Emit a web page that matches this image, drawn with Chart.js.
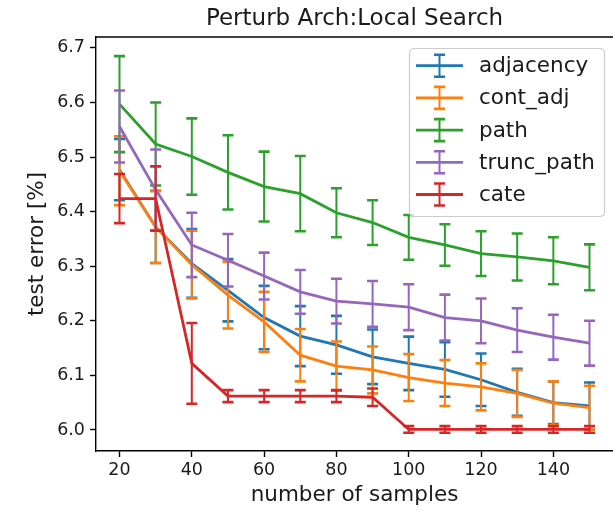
<!DOCTYPE html>
<html>
<head>
<meta charset="utf-8">
<title>Perturb Arch:Local Search</title>
<script src="https://cdn.jsdelivr.net/npm/chart.js@4.4.1/dist/chart.umd.min.js"></script>
<style>
  html, body { margin: 0; padding: 0; background: #ffffff; }
  #wrap { width: 613px; height: 514px; }
</style>
</head>
<body>
<div id="wrap"><canvas id="chart" width="613" height="514"></canvas></div>
<script>
// Number of samples on the x axis
const samples = [20, 30, 40, 50, 60, 70, 80, 90, 100, 110, 120, 130, 140, 150];

// Mean test error [%] per encoding
const adjacency = [6.477, 6.372, 6.305, 6.256, 6.206, 6.172, 6.156, 6.134, 6.122, 6.111, 6.092, 6.069, 6.050, 6.044];
const contAdj   = [6.475, 6.372, 6.303, 6.247, 6.198, 6.137, 6.117, 6.110, 6.096, 6.086, 6.079, 6.067, 6.049, 6.041];
const path      = [6.597, 6.524, 6.501, 6.472, 6.446, 6.433, 6.398, 6.380, 6.353, 6.339, 6.323, 6.317, 6.310, 6.298];
const truncPath = [6.556, 6.440, 6.339, 6.311, 6.282, 6.253, 6.236, 6.231, 6.225, 6.206, 6.200, 6.183, 6.170, 6.159];
const cate      = [6.424, 6.424, 6.122, 6.062, 6.062, 6.062, 6.062, 6.060, 6.001, 6.001, 6.001, 6.001, 6.001, 6.001];

// Half-width of the error bars
const adjacencyErr = [0.056, 0.066, 0.063, 0.057, 0.058, 0.055, 0.053, 0.050, 0.049, 0.050, 0.048, 0.043, 0.039, 0.043];
const contAdjErr   = [0.063, 0.066, 0.062, 0.061, 0.055, 0.048, 0.045, 0.043, 0.043, 0.042, 0.043, 0.043, 0.040, 0.040];
const pathErr      = [0.088, 0.076, 0.070, 0.068, 0.064, 0.069, 0.045, 0.041, 0.041, 0.038, 0.041, 0.043, 0.043, 0.042];
const truncPathErr = [0.066, 0.074, 0.059, 0.048, 0.043, 0.040, 0.041, 0.042, 0.042, 0.042, 0.041, 0.040, 0.041, 0.041];
const cateErr      = [0.045, 0.059, 0.074, 0.011, 0.011, 0.011, 0.011, 0.016, 0.006, 0.006, 0.006, 0.006, 0.006, 0.006];

// Axis ticks
const xTicks = [20, 40, 60, 80, 100, 120, 140];
const yTicks = [6.0, 6.1, 6.2, 6.3, 6.4, 6.5, 6.6, 6.7];

const seriesNames  = ['adjacency', 'cont_adj', 'path', 'trunc_path', 'cate'];
const seriesValues = [adjacency, contAdj, path, truncPath, cate];
const seriesErrors = [adjacencyErr, contAdjErr, pathErr, truncPathErr, cateErr];
const seriesColors = ['#1f77b4', '#ff7f0e', '#2ca02c', '#9467bd', '#d62728'];

const FONT = "'DejaVu Sans', 'Liberation Sans', sans-serif";
const TEXT = '#1a1a1a';

const datasets = seriesNames.map((name, k) => ({
  label: name,
  data: samples.map((x, i) => ({ x: x, y: seriesValues[k][i] })),
  err: seriesErrors[k],
  borderColor: seriesColors[k],
  backgroundColor: seriesColors[k],
  borderWidth: 2.8,
  pointRadius: 0,
  pointHoverRadius: 0,
  tension: 0,
  fill: false,
  order: seriesNames.length - k   // later series are painted on top
}));

// Vertical error bars with caps, painted just under each series' line
const errorBars = {
  id: 'errorBars',
  beforeDatasetDraw(chart, args) {
    const ds = chart.data.datasets[args.index];
    const xs = chart.scales.x, ys = chart.scales.y;
    const ctx = chart.ctx;
    const cap = 5.5;
    ctx.save();
    ctx.strokeStyle = ds.borderColor;
    ds.data.forEach((pt, i) => {
      const px = xs.getPixelForValue(pt.x);
      const top = ys.getPixelForValue(pt.y + ds.err[i]);
      const bot = ys.getPixelForValue(pt.y - ds.err[i]);
      ctx.lineWidth = 2;
      ctx.beginPath();
      ctx.moveTo(px, top);
      ctx.lineTo(px, bot);
      ctx.stroke();
      ctx.lineWidth = 2.6;
      ctx.beginPath();
      ctx.moveTo(px - cap, top); ctx.lineTo(px + cap, top);
      ctx.moveTo(px - cap, bot); ctx.lineTo(px + cap, bot);
      ctx.stroke();
    });
    ctx.restore();
  }
};

// Title, top spine and the boxed legend
const decorations = {
  id: 'decorations',
  afterDraw(chart) {
    const ctx = chart.ctx;
    const area = chart.chartArea;
    ctx.save();

    // top spine
    ctx.strokeStyle = '#000';
    ctx.lineWidth = 1.4;
    ctx.beginPath();
    ctx.moveTo(area.left, area.top);
    ctx.lineTo(area.right, area.top);
    ctx.stroke();

    // title
    ctx.fillStyle = TEXT;
    ctx.font = '23px ' + FONT;
    ctx.textAlign = 'center';
    ctx.textBaseline = 'middle';
    ctx.fillText('Perturb Arch:Local Search', (area.left + area.right) / 2, 19);

    // legend frame
    const bx = 409.5, by = 48.5, bw = 195, bh = 168, r = 5;
    ctx.beginPath();
    ctx.moveTo(bx + r, by);
    ctx.lineTo(bx + bw - r, by);
    ctx.quadraticCurveTo(bx + bw, by, bx + bw, by + r);
    ctx.lineTo(bx + bw, by + bh - r);
    ctx.quadraticCurveTo(bx + bw, by + bh, bx + bw - r, by + bh);
    ctx.lineTo(bx + r, by + bh);
    ctx.quadraticCurveTo(bx, by + bh, bx, by + bh - r);
    ctx.lineTo(bx, by + r);
    ctx.quadraticCurveTo(bx, by, bx + r, by);
    ctx.closePath();
    ctx.fillStyle = 'rgba(255,255,255,0.8)';
    ctx.fill();
    ctx.strokeStyle = '#cccccc';
    ctx.lineWidth = 1.2;
    ctx.stroke();

    // legend entries
    ctx.font = '21.5px ' + FONT;
    ctx.textAlign = 'left';
    ctx.textBaseline = 'middle';
    seriesNames.forEach((name, k) => {
      const y = 65.7 + k * 32.2;
      const cx = 439.5;
      ctx.strokeStyle = seriesColors[k];
      ctx.lineWidth = 2.8;
      ctx.beginPath();
      ctx.moveTo(416, y); ctx.lineTo(463, y);
      ctx.stroke();
      ctx.lineWidth = 2;
      ctx.beginPath();
      ctx.moveTo(cx, y - 11); ctx.lineTo(cx, y + 11);
      ctx.stroke();
      ctx.lineWidth = 2.6;
      ctx.beginPath();
      ctx.moveTo(cx - 5.5, y - 11); ctx.lineTo(cx + 5.5, y - 11);
      ctx.moveTo(cx - 5.5, y + 11); ctx.lineTo(cx + 5.5, y + 11);
      ctx.stroke();
      ctx.fillStyle = TEXT;
      ctx.fillText(name, 479, y + 1);
    });
    ctx.restore();
  }
};

new Chart(document.getElementById('chart'), {
  type: 'line',
  data: { datasets: datasets },
  plugins: [errorBars, decorations],
  options: {
    responsive: false,
    animation: false,
    devicePixelRatio: 1,
    layout: { padding: { top: 37, right: 0, bottom: 0, left: 0 } },
    plugins: {
      legend: { display: false },
      title: { display: false },
      tooltip: { enabled: false }
    },
    events: [],
    scales: {
      x: {
        type: 'linear',
        position: 'bottom',
        min: 13.5,
        max: 156.5,
        bounds: 'data',
        afterBuildTicks: (axis) => { axis.ticks = xTicks.map(v => ({ value: v })); },
        afterFit: (axis) => { axis.height = 63; },
        ticks: {
          autoSkip: false,
          maxRotation: 0,
          padding: 3,
          color: TEXT,
          font: { family: FONT, size: 17.5 },
          callback: (v) => String(v)
        },
        grid: {
          display: true,
          drawOnChartArea: false,
          drawTicks: true,
          tickLength: 6,
          tickWidth: 1.4,
          tickColor: '#000'
        },
        border: { display: true, color: '#000', width: 1.4 },
        title: {
          display: true,
          text: 'number of samples',
          color: TEXT,
          font: { family: FONT, size: 21.5 },
          padding: { top: 0, bottom: 6 }
        }
      },
      y: {
        type: 'linear',
        position: 'left',
        min: 5.9615,
        max: 6.72,
        bounds: 'data',
        afterBuildTicks: (axis) => { axis.ticks = yTicks.map(v => ({ value: v })); },
        afterFit: (axis) => { axis.width = 96; },
        ticks: {
          autoSkip: false,
          padding: 5,
          color: TEXT,
          font: { family: FONT, size: 17.5 },
          callback: (v) => Number(v).toFixed(1)
        },
        grid: {
          display: true,
          drawOnChartArea: false,
          drawTicks: true,
          tickLength: 6,
          tickWidth: 1.4,
          tickColor: '#000'
        },
        border: { display: true, color: '#000', width: 1.4 },
        title: {
          display: true,
          text: 'test error [%]',
          color: TEXT,
          font: { family: FONT, size: 21.5 },
          padding: { top: 25, bottom: 0 }
        }
      }
    }
  }
});
</script>
</body>
</html>
